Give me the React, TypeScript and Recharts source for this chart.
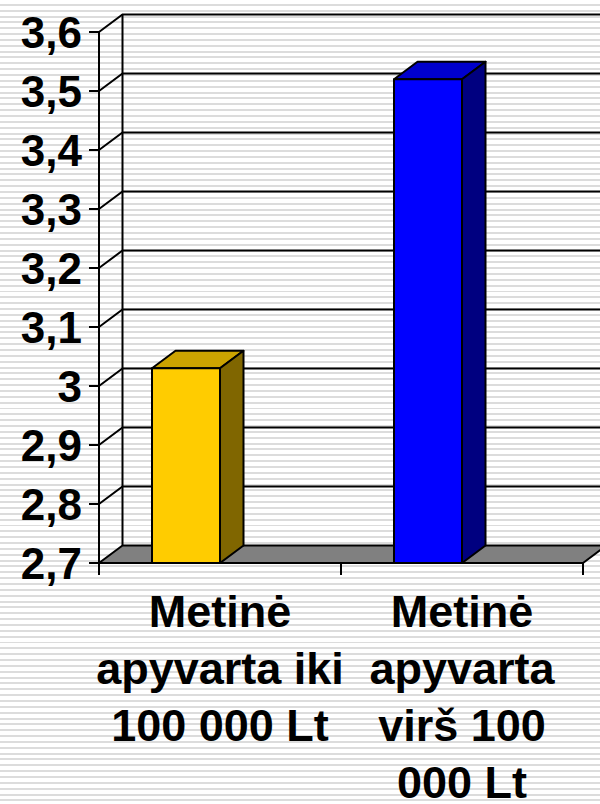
import React from 'react';
import { BarChart, Bar, XAxis, YAxis, CartesianGrid } from 'recharts';

// ---- data ----
const categories = ['Metinė apyvarta iki 100 000 Lt', 'Metinė apyvarta virš 100 000 Lt'];
const categoryLines = [
  ['Metinė', 'apyvarta iki', '100 000 Lt'],
  ['Metinė', 'apyvarta', 'virš 100', '000 Lt'],
];
const values = [3.03, 3.52];
const yTicks = [2.7, 2.8, 2.9, 3.0, 3.1, 3.2, 3.3, 3.4, 3.5, 3.6];
const yTickLabels = ['2,7', '2,8', '2,9', '3', '3,1', '3,2', '3,3', '3,4', '3,5', '3,6'];
const frontColors = ['#FFCC00', '#0000FF'];
const topColors = ['#CCA300', '#0000CC'];
const sideColors = ['#806600', '#000080'];

const data = categories.map((name, i) => ({ name, value: values[i], idx: i }));

// ---- style ----
const FONT = "'Liberation Sans', Arial, Helvetica, sans-serif";
const DX = 23.5;
const DY = 17.5;
const BAR_SHIFT = -34;
const LINE_H = 57;

const renderGridLine = (props: any) => {
  const { x1, y1, x2, y, height, index } = props;
  const bottom = y + height;
  if (Math.abs(y1 - bottom) < 0.5) {
    const n = categories.length;
    const bw = (x2 - x1) / n;
    const ticks = Array.from({ length: n + 1 }, (_, i) => x1 + bw * i);
    return (
      <g key={`grid-${index}`}>
        <line x1={x1 + DX} y1={y - DY} x2={x1 + DX} y2={y1 - DY} stroke="#000" strokeWidth={2} />
        <polygon
          points={`${x1},${y1} ${x2},${y1} ${x2 + DX},${y1 - DY} ${x1 + DX},${y1 - DY}`}
          fill="#808080"
          stroke="#000"
          strokeWidth={2}
          strokeLinejoin="round"
        />
        {ticks.map((tx, i) => (
          <line key={i} x1={tx} y1={y1} x2={tx} y2={y1 + 12} stroke="#000" strokeWidth={2} />
        ))}
      </g>
    );
  }
  return (
    <polyline
      key={`grid-${index}`}
      points={`${x1},${y1} ${x1 + DX},${y1 - DY} ${x2 + DX},${y1 - DY}`}
      fill="none"
      stroke="#000"
      strokeWidth={2}
    />
  );
};

const Bar3D = (props: any) => {
  const { x, y, width, height, index, payload } = props;
  const i = payload && payload.idx !== undefined ? payload.idx : index;
  const fx = x + BAR_SHIFT;
  const w = width;
  return (
    <g strokeLinejoin="round">
      <polygon
        points={`${fx},${y} ${fx + w},${y} ${fx + w + DX},${y - DY} ${fx + DX},${y - DY}`}
        fill={topColors[i]}
        stroke="#000"
        strokeWidth={2}
      />
      <polygon
        points={`${fx + w},${y} ${fx + w + DX},${y - DY} ${fx + w + DX},${y + height - DY} ${fx + w},${y + height}`}
        fill={sideColors[i]}
        stroke="#000"
        strokeWidth={2}
      />
      <rect x={fx} y={y} width={w} height={height} fill={frontColors[i]} stroke="#000" strokeWidth={2} />
    </g>
  );
};

const CategoryTick = (props: any) => {
  const { x, y, payload, index } = props;
  const idx = payload && typeof payload.index === 'number' ? payload.index : index;
  const lines = categoryLines[idx] || [];
  return (
    <text x={x} y={y} textAnchor="middle" fontSize={45} fontWeight="bold" fontFamily={FONT} fill="#000">
      {lines.map((l, i) => (
        <tspan key={i} x={x} y={y + 64 + i * LINE_H}>
          {l}
        </tspan>
      ))}
    </text>
  );
};

const formatY = (v: number) => {
  const k = yTicks.findIndex((t) => Math.abs(t - v) < 1e-6);
  return k >= 0 ? yTickLabels[k] : String(v);
};

export default function App() {
  return (
    <div
      style={{
        position: 'absolute',
        left: 0,
        top: 0,
        width: 600,
        height: 804,
        overflow: 'hidden',
        background:
          'repeating-linear-gradient(to bottom, #ffffff 0px, #ffffff 3.85px, #dcdcdc 3.85px, #dcdcdc 5.85px)',
      }}
    >
      <BarChart width={600} height={804} data={data} margin={{ top: 32, right: 17, bottom: 0, left: 0 }}>
        <CartesianGrid vertical={false} horizontal={renderGridLine} />
        <XAxis
          dataKey="name"
          height={241}
          tickLine={false}
          axisLine={false}
          tickSize={0}
          tickMargin={0}
          interval={0}
          tick={<CategoryTick />}
        />
        <YAxis
          type="number"
          domain={[2.7, 3.6]}
          ticks={yTicks}
          allowDataOverflow
          width={99}
          tickSize={10}
          tickMargin={7}
          axisLine={{ stroke: '#000', strokeWidth: 2 }}
          tickLine={{ stroke: '#000', strokeWidth: 2 }}
          tick={{ fontSize: 44, fontWeight: 'bold', fill: '#000', fontFamily: FONT }}
          tickFormatter={formatY}
        />
        <Bar dataKey="value" barSize={68} shape={<Bar3D />} isAnimationActive={false} />
      </BarChart>
    </div>
  );
}
